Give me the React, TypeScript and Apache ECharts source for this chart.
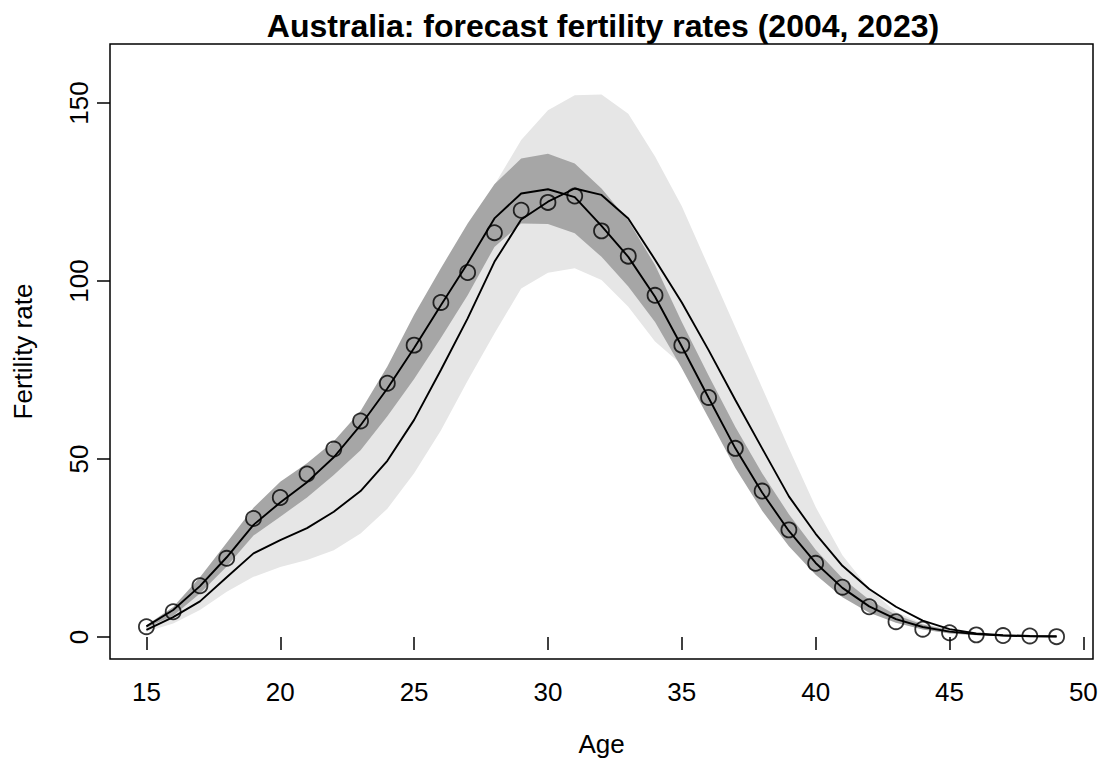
import React, { useEffect, useRef } from "react";
import * as echarts from "echarts";

// Single-year ages of mothers
const ages = [
  15, 16, 17, 18, 19, 20, 21, 22, 23, 24, 25, 26, 27, 28, 29, 30, 31, 32,
  33, 34, 35, 36, 37, 38, 39, 40, 41, 42, 43, 44, 45, 46, 47, 48, 49,
];

// Observed rates (circles)
const observed = [
  2.9, 7.1, 14.4, 22.1, 33.3, 39.2, 45.8, 52.8, 60.7, 71.3, 82.0, 94.0, 102.4,
  113.6, 119.9, 122.1, 123.9, 114.1, 107.0, 96.0, 82.0, 67.3, 53.0, 41.0, 30.1,
  20.7, 14.0, 8.5, 4.3, 2.2, 1.2, 0.6, 0.4, 0.3, 0.1,
];

// Forecast for 2004 with its interval (dark band)
const forecast2004 = [
  3.0, 7.6, 14.3, 22.4, 31.5, 37.8, 43.5, 50.5, 59.5, 69.8, 81.2, 93.2, 105.0,
  117.6, 124.6, 125.8, 123.6, 115.5, 106.8, 95.6, 81.6, 67.2, 53.0, 40.6, 29.8,
  20.8, 13.8, 8.6, 5.0, 2.8, 1.5, 0.8, 0.4, 0.2, 0.1,
];
const lower2004 = [
  2.6, 6.0, 12.2, 19.8, 28.5, 33.8, 39.2, 45.5, 52.5, 62.0, 72.5, 84.0, 96.0,
  109.6, 116.2, 116.0, 113.4, 106.8, 98.5, 88.5, 75.5, 61.5, 47.5, 35.5, 25.5,
  17.5, 11.2, 6.8, 4.0, 2.1, 1.0, 0.5, 0.3, 0.15, 0.05,
];
const upper2004 = [
  3.3, 8.4, 16.8, 26.5, 36.3, 43.6, 48.8, 55.0, 63.5, 76.0, 90.5, 103.6, 116.2,
  127.2, 134.4, 135.8, 133.0, 126.0, 117.0, 104.5, 88.5, 73.5, 59.0, 46.0, 34.5,
  24.5, 16.5, 10.5, 6.2, 3.5, 2.0, 1.0, 0.5, 0.3, 0.15,
];

// Forecast for 2023 with its interval (light band)
const forecast2023 = [
  2.0, 5.6, 10.0, 16.8, 23.5, 27.2, 30.6, 35.2, 41.0, 49.5, 61.0, 75.0, 89.5,
  105.4, 117.3, 122.3, 126.0, 124.2, 117.6, 106.0, 94.0, 80.6, 66.6, 53.0, 39.5,
  29.0, 20.0, 13.5, 8.5, 4.6, 2.2, 1.0, 0.5, 0.3, 0.2,
];
const lower2023 = [
  1.5, 3.8, 7.6, 12.7, 16.9, 19.7, 21.6, 24.4, 29.1, 36.0, 46.0, 58.0, 72.0,
  85.3, 97.9, 102.3, 103.6, 100.3, 92.8, 83.0, 76.5, 62.0, 48.0, 36.0, 26.0,
  18.0, 11.5, 7.0, 4.1, 2.2, 1.1, 0.55, 0.3, 0.15, 0.05,
];
const upper2023 = [
  3.0, 7.5, 15.0, 24.0, 33.0, 39.0, 44.0, 50.0, 58.0, 69.0, 82.0, 96.0, 111.0,
  127.0, 139.6, 148.0, 152.2, 152.4, 147.0, 135.0, 121.0, 104.0, 87.0, 70.0,
  53.0, 36.5, 23.0, 13.5, 7.0, 3.8, 2.0, 1.0, 0.5, 0.3, 0.2,
];

// Axis tick values
const xTicks = [15, 20, 25, 30, 35, 40, 45, 50];
const yTicks = [0, 50, 100, 150];

const FONT = '"Liberation Sans", Arial, Helvetica, sans-serif';

const pairs = (vals: number[]) => ages.map((a, i) => [a, vals[i]]);

// Filled interval band: one polygon, upper edge left→right then lower edge back
function bandSeries(name: string, lo: number[], hi: number[], fill: string) {
  return {
    name,
    type: "custom",
    silent: true,
    clip: true,
    data: ages.map((a, i) => [a, lo[i], hi[i]]),
    encode: { x: 0, y: [1, 2] },
    renderItem: (params: any, api: any) => {
      if (params.dataIndex !== 0) return null;
      const pts: number[][] = [];
      for (let i = 0; i < ages.length; i++) pts.push(api.coord([ages[i], hi[i]]));
      for (let i = ages.length - 1; i >= 0; i--) pts.push(api.coord([ages[i], lo[i]]));
      return {
        type: "polygon",
        shape: { points: pts },
        style: { fill, stroke: null },
      };
    },
  };
}

export default function App() {
  const ref = useRef<HTMLDivElement>(null);

  useEffect(() => {
    const chart = echarts.init(ref.current!, null, { renderer: "svg" });

    const option: any = {
      animation: false,
      backgroundColor: "#ffffff",
      textStyle: { fontFamily: FONT },
      title: {
        text: "Australia: forecast fertility rates (2004, 2023)",
        left: 598,
        top: 5,
        textAlign: "center",
        textStyle: {
          fontFamily: FONT,
          fontSize: 32,
          fontWeight: "bold",
          color: "#000",
        },
      },
      grid: {
        left: 110,
        right: 9,
        top: 44,
        bottom: 102,
        show: true,
        borderColor: "#000",
        borderWidth: 1.5,
        backgroundColor: "transparent",
        outerBoundsMode: "none",
        containLabel: false,
      },
      xAxis: {
        type: "value",
        min: 13.64,
        max: 50.36,
        name: "Age",
        nameLocation: "middle",
        nameGap: 72,
        nameTextStyle: { fontFamily: FONT, fontSize: 26, color: "#000" },
        axisLine: { show: false },
        splitLine: { show: false },
        axisTick: {
          show: true,
          inside: false,
          length: 13,
          customValues: xTicks,
          lineStyle: { color: "#000", width: 1.5 },
        },
        axisLabel: {
          show: true,
          customValues: xTicks,
          margin: 20,
          fontFamily: FONT,
          fontSize: 26,
          color: "#000",
        },
      },
      yAxis: {
        type: "value",
        min: -6.18,
        max: 166.6,
        name: "Fertility rate",
        nameLocation: "middle",
        nameGap: 74,
        nameRotate: 90,
        nameTextStyle: { fontFamily: FONT, fontSize: 26, color: "#000" },
        axisLine: { show: false },
        splitLine: { show: false },
        axisTick: {
          show: true,
          inside: false,
          length: 13,
          customValues: yTicks,
          lineStyle: { color: "#000", width: 1.5 },
        },
        axisLabel: {
          show: true,
          customValues: yTicks,
          rotate: 90,
          margin: 18,
          fontFamily: FONT,
          fontSize: 26,
          color: "#000",
        },
      },
      series: [
        bandSeries("2023 interval", lower2023, upper2023, "#e6e6e6"),
        bandSeries("2004 interval", lower2004, upper2004, "#a6a6a6"),
        {
          name: "2023 forecast",
          type: "line",
          data: pairs(forecast2023),
          symbol: "none",
          lineStyle: { color: "#000", width: 1.9 },
          silent: true,
        },
        {
          name: "2004 forecast",
          type: "line",
          data: pairs(forecast2004),
          symbol: "none",
          lineStyle: { color: "#000", width: 1.9 },
          silent: true,
        },
        {
          name: "2004 observed",
          type: "scatter",
          data: pairs(observed),
          symbol: "circle",
          symbolSize: 15,
          itemStyle: {
            color: "rgba(0,0,0,0)",
            borderColor: "#000",
            borderWidth: 1.8,
          },
          silent: true,
        },
      ],
    };

    chart.setOption(option);
    return () => chart.dispose();
  }, []);

  return (
    <div
      ref={ref}
      style={{
        position: "fixed",
        left: 0,
        top: 0,
        width: 1102,
        height: 761,
        background: "#fff",
      }}
    />
  );
}
